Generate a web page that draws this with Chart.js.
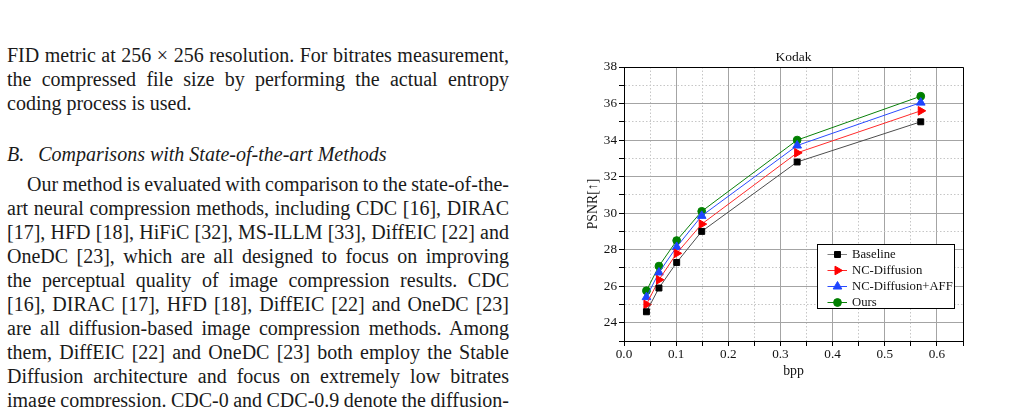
<!DOCTYPE html>
<html lang="en">
<head>
<meta charset="UTF-8">
<title>Kodak PSNR vs bpp</title>
<script src="https://cdn.jsdelivr.net/npm/chart.js"></script>
<style>
    * { margin: 0; padding: 0; box-sizing: border-box; }
    html, body { width: 1017px; height: 407px; overflow: hidden; background: #fff; }
    body { position: relative; font-family: 'Liberation Serif', 'Times New Roman', serif; color: #1a1a1a; }

    .column {
        position: absolute;
        left: 7px;
        top: 43px;
        width: 502px;
        font-size: 20px;
        line-height: 24px;
    }
    .column div { height: 24px; }
    .j { text-align: justify; text-align-last: justify; word-spacing: -3px; }
    .ind { padding-left: 20px; }
    .head { font-style: italic; margin-top: 27px; margin-bottom: 6px; }
    .head .sec { margin-right: 9px; }

    #kodak { position: absolute; left: 560px; top: 40px; }
</style>
</head>
<body>
<div class="column">
    <div class="j">FID metric at 256 × 256 resolution. For bitrates measurement,</div>
    <div class="j">the compressed file size by performing the actual entropy</div>
    <div>coding process is used.</div>
    <div class="head"><span class="sec">B.</span> Comparisons with State-of-the-art Methods</div>
    <div class="j ind">Our method is evaluated with comparison to the state-of-the-</div>
    <div class="j">art neural compression methods, including CDC [16], DIRAC</div>
    <div class="j">[17], HFD [18], HiFiC [32], MS-ILLM [33], DiffEIC [22] and</div>
    <div class="j">OneDC [23], which are all designed to focus on improving</div>
    <div class="j">the perceptual quality of image compression results. CDC</div>
    <div class="j">[16], DIRAC [17], HFD [18], DiffEIC [22] and OneDC [23]</div>
    <div class="j">are all diffusion-based image compression methods. Among</div>
    <div class="j">them, DiffEIC [22] and OneDC [23] both employ the Stable</div>
    <div class="j">Diffusion architecture and focus on extremely low bitrates</div>
    <div class="j">image compression. CDC-0 and CDC-0.9 denote the diffusion-</div>
</div>

<canvas id="kodak" width="420" height="350"></canvas>

<script>
// data
const bpp = [0.043, 0.067, 0.101, 0.149, 0.332, 0.569];
const baseline = [24.6, 25.9, 27.3, 29.0, 32.8, 35.0];
const ncDiffusion = [25.0, 26.35, 27.8, 29.4, 33.3, 35.6];
const ncDiffusionAff = [25.4, 26.75, 28.15, 29.85, 33.7, 36.05];
const ours = [25.75, 27.1, 28.5, 30.1, 34.0, 36.4];
const seriesNames = ['Baseline', 'NC-Diffusion', 'NC-Diffusion+AFF', 'Ours'];

// axes
const xTickValues = [0, 0.1, 0.2, 0.3, 0.4, 0.5, 0.6];
const xTickLabels = ['0.0', '0.1', '0.2', '0.3', '0.4', '0.5', '0.6'];
const xMinorTicks = [0.05, 0.15, 0.25, 0.35, 0.45, 0.55, 0.65];
const yTickValues = [24, 26, 28, 30, 32, 34, 36, 38];
const yTickLabels = ['24', '26', '28', '30', '32', '34', '36', '38'];
const yMinorTicks = [23, 25, 27, 29, 31, 33, 35, 37];

const SERIF = '"Liberation Serif", "Times New Roman", serif';
Chart.defaults.font.family = SERIF;
Chart.defaults.color = '#111';

function findTick(list, v) {
    return list.findIndex(t => Math.abs(t - v) < 1e-9);
}
function isMajor(list, c) {
    return c.tick ? findTick(list, c.tick.value) >= 0 : true;
}
function points(ys) {
    return bpp.map((x, i) => ({ x: x, y: ys[i] }));
}

// top and right edge of the plot box
const frame = {
    id: 'frame',
    beforeDatasetsDraw(chart) {
        const { ctx, chartArea: a } = chart;
        const t = Math.round(a.top - 0.5) + 0.5, r = Math.round(a.right - 0.5) + 0.5;
        ctx.save();
        ctx.strokeStyle = '#000';
        ctx.lineWidth = 1;
        ctx.beginPath();
        ctx.moveTo(a.left, t);
        ctx.lineTo(r, t);
        ctx.lineTo(r, a.bottom);
        ctx.stroke();
        ctx.restore();
    }
};

// boxed legend in the lower right corner of the plot
const legendBox = {
    id: 'legendBox',
    afterDatasetsDraw(chart) {
        const { ctx, chartArea: a } = chart;
        const x0 = Math.round(a.right) - 146 + 0.5;
        const y0 = Math.round(a.bottom) - 96.5;
        ctx.save();
        ctx.fillStyle = '#fff';
        ctx.fillRect(x0, y0, 137, 64);
        ctx.strokeStyle = '#000';
        ctx.lineWidth = 1;
        ctx.strokeRect(x0, y0, 137, 64);
        ctx.font = '12.7px ' + SERIF;
        ctx.textBaseline = 'middle';
        chart.data.datasets.forEach((ds, i) => {
            const y = Math.round(y0 + 9.5 + i * 15.9) + 0.5;
            ctx.strokeStyle = ds.legendLine || ds.borderColor;
            ctx.beginPath();
            ctx.moveTo(x0 + 10, y);
            ctx.lineTo(x0 + 29.5, y);
            ctx.stroke();
            ctx.fillStyle = ds.pointBackgroundColor;
            ctx.strokeStyle = ds.pointBorderColor;
            Chart.helpers.drawPoint(ctx, {
                pointStyle: ds.pointStyle,
                radius: ds.pointRadius,
                rotation: ds.pointRotation || 0,
                borderWidth: 1
            }, x0 + 20, y);
            ctx.fillStyle = '#111';
            ctx.fillText(ds.label, x0 + 34.5, y + 0.5);
        });
        ctx.restore();
    }
};

new Chart(document.getElementById('kodak'), {
    type: 'line',
    data: {
        datasets: [{
            label: seriesNames[0],
            data: points(baseline),
            borderColor: '#4d4d4d',
            legendLine: '#808080',
            pointStyle: 'rect',
            pointRadius: 4.2,
            pointBackgroundColor: '#000',
            pointBorderColor: '#000'
        }, {
            label: seriesNames[1],
            data: points(ncDiffusion),
            borderColor: '#ff2a2a',
            pointStyle: 'triangle',
            pointRotation: 90,
            pointRadius: 5,
            pointBackgroundColor: '#ff0000',
            pointBorderColor: '#ff0000'
        }, {
            label: seriesNames[2],
            data: points(ncDiffusionAff),
            borderColor: '#2a4bff',
            pointStyle: 'triangle',
            pointRadius: 5,
            pointBackgroundColor: '#1f45ff',
            pointBorderColor: '#1f45ff'
        }, {
            label: seriesNames[3],
            data: points(ours),
            borderColor: '#0a800a',
            pointStyle: 'circle',
            pointRadius: 3.9,
            pointBackgroundColor: '#008000',
            pointBorderColor: '#008000'
        }]
    },
    options: {
        responsive: false,
        animation: false,
        devicePixelRatio: 1,
        datasets: { line: { borderWidth: 1, tension: 0, pointBorderWidth: 1, pointHoverRadius: 4 } },
        layout: { padding: { left: 20, right: 17, top: 0, bottom: 8 } },
        plugins: {
            legend: { display: false },
            tooltip: { enabled: false },
            title: {
                display: true,
                text: 'Kodak',
                fullSize: false,
                color: '#111',
                font: { size: 13.5, weight: 'normal' },
                padding: { top: 9, bottom: 1.8 }
            }
        },
        scales: {
            x: {
                type: 'linear',
                min: 0,
                max: 0.65,
                afterBuildTicks: s => {
                    s.ticks = xTickValues.concat(xMinorTicks).sort((a, b) => a - b).map(v => ({ value: v }));
                },
                afterFit: s => { s.height = 41; },
                ticks: {
                    autoSkip: false,
                    maxRotation: 0,
                    padding: 1,
                    font: { size: 13.2 },
                    callback: v => { const i = findTick(xTickValues, v); return i >= 0 ? xTickLabels[i] : ''; }
                },
                grid: {
                    color: c => isMajor(xTickValues, c) ? '#a4a4a4' : '#c6c6c6',
                    lineWidth: 1,
                    tickColor: '#000',
                    tickLength: 5
                },
                border: { color: '#000', width: 1, dash: c => isMajor(xTickValues, c) ? [] : [1.5, 2] },
                title: { display: true, text: 'bpp', font: { size: 13.8 }, padding: { top: 0, bottom: 2 } }
            },
            y: {
                min: 23,
                max: 38,
                afterBuildTicks: s => {
                    s.ticks = yTickValues.concat(yMinorTicks).sort((a, b) => a - b).map(v => ({ value: v }));
                },
                afterFit: s => { s.width = 44; },
                ticks: {
                    autoSkip: false,
                    padding: 2,
                    font: { size: 13.2 },
                    callback: v => { const i = findTick(yTickValues, v); return i >= 0 ? yTickLabels[i] : ''; }
                },
                grid: {
                    color: c => isMajor(yTickValues, c) ? '#a4a4a4' : '#c6c6c6',
                    lineWidth: 1,
                    tickColor: '#000',
                    tickLength: 5
                },
                border: { color: '#000', width: 1, dash: c => isMajor(yTickValues, c) ? [] : [1.5, 2] },
                title: { display: true, text: 'PSNR[↑]', font: { size: 13.8 }, padding: { top: 5, bottom: 0 } }
            }
        }
    },
    plugins: [frame, legendBox]
});
</script>
</body>
</html>
